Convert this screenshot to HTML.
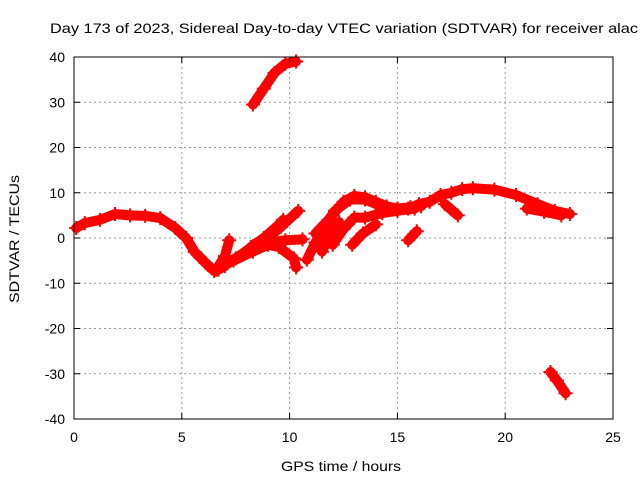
<!DOCTYPE html>
<html><head><meta charset="utf-8"><style>
body{margin:0;background:#fff;}
svg{display:block;font-family:"Liberation Sans",sans-serif;}
</style></head><body>
<svg id="chart" width="640" height="480">
<rect width="640" height="480" fill="#fff"/>
<text x="50" y="33" font-size="14" fill="#000" textLength="588" lengthAdjust="spacingAndGlyphs">Day 173 of 2023, Sidereal Day-to-day VTEC variation (SDTVAR) for receiver alac</text>
<g id="grid"></g>
<g id="series"></g>
<rect x="74" y="57" width="539" height="362" fill="none" stroke="#000" stroke-width="1"/>
<g id="ticks"></g>
<text x="281" y="471" font-size="14" textLength="120" lengthAdjust="spacingAndGlyphs">GPS time / hours</text>
<text transform="translate(19,303) rotate(-90)" font-size="14" textLength="128" lengthAdjust="spacingAndGlyphs">SDTVAR / TECUs</text>
</svg>
<script>
const xTicks=[0,5,10,15,20,25];
const yTicks=[-40,-30,-20,-10,0,10,20,30,40];
const arcMain=[[0.1,2.2],[0.5,3.3],[1.2,4],[1.9,5.3],[2.6,5],[3.3,4.9],[4.0,4.4],[4.7,2.2],[5.2,0],[5.6,-3.1],[6.1,-5.5],[6.5,-7.3],[7.0,-6.2]];
const arcB=[[6.6,-7],[7.0,-4],[7.2,-0.5]];
const arcC=[[6.7,-7],[7.5,-4.5],[8.3,-1.8],[9,0],[9.6,2.5],[10.4,6]];
const arcD=[[7.4,-5],[8.3,-3],[9,-1.5],[9.5,-2],[10.2,-4.5],[10.3,-6.5]];
const arcE=[[8.2,-2],[8.8,0],[9.4,2.5],[9.7,4]];
const arcF=[[9,-1],[9.8,-0.5],[10.6,-0.3]];
const arcG=[[10.8,-4.8],[11.2,-1],[11.6,2.5],[12.1,6],[12.8,8.5],[13.5,8.5],[14,7.5],[14.5,6.5],[15,6.5],[15.6,6.8],[16.1,7]];
const arcH=[[11.2,1],[11.8,4],[12.5,8],[13,9.3],[13.5,9],[14,8],[14.5,7],[15,6.5],[15.5,6.5],[16,7.5],[16.5,8],[17,9.5],[17.5,10],[18,10.8],[18.5,11],[19.5,10.7],[20.5,9.5],[21.5,7.5],[22.3,6],[23,5.3]];
const arcI=[[12,-1.5],[12.5,2],[13,4.5],[13.5,4.5],[14.3,5.5],[15,6],[15.8,6.5]];
const arcJ=[[12.9,-1.5],[13.4,1],[14,3]];
const arcK=[[11.5,-3],[11.9,1],[12.3,3.5]];
const arcL=[[15.5,-0.5],[15.9,1.5]];
const arcM=[[17.2,7.5],[17.8,5]];
const arcN=[[21.0,6.5],[21.8,5.8],[22.6,5]];
const arcTop=[[8.3,29.5],[8.8,33],[9.3,36.5],[9.8,38.5],[10.3,39]];
const arcBottom=[[22.1,-29.6],[22.4,-31.5],[22.8,-34.3]];
const arcs=[arcMain,arcB,arcC,arcD,arcE,arcF,arcG,arcH,arcI,arcJ,arcK,arcL,arcM,arcN,arcTop,arcBottom];
const NS="http://www.w3.org/2000/svg";
const X0=74,X1=613,Y0=419,Y1=57;
function sx(t){return X0+(t-0)/(25-0)*(X1-X0);}
function sy(v){return Y0-(v+40)/80*(Y0-Y1);}
const grid=document.getElementById('grid'),ticks=document.getElementById('ticks'),ser=document.getElementById('series');
function mk(tag,attrs,parent){const e=document.createElementNS(NS,tag);for(const k in attrs)e.setAttribute(k,attrs[k]);parent.appendChild(e);return e;}
xTicks.forEach(t=>{
  const x=sx(t);
  if(t>0&&t<25){const g=mk('line',{x1:x,x2:x,y1:Y1,y2:Y0,stroke:'#999','stroke-dasharray':'2,3'},grid);
  
  }
  const a=mk('line',{x1:x,x2:x,y1:Y0,y2:Y0-6,stroke:'#000'},ticks);
  
  
  const b=mk('line',{x1:x,x2:x,y1:Y1,y2:Y1+6,stroke:'#000'},ticks);
  
  
  const l=mk('text',{x:x,y:Y0+23,'font-size':14,'text-anchor':'middle'},ticks);l.textContent=t;
  
  
});
yTicks.forEach(v=>{
  const y=sy(v);
  if(v>-40&&v<40){const g=mk('line',{x1:X0,x2:X1,y1:y,y2:y,stroke:'#999','stroke-dasharray':'2,3'},grid);
  
  }
  const a=mk('line',{x1:X0,x2:X0+6,y1:y,y2:y,stroke:'#000'},ticks);
  
  
  const b=mk('line',{x1:X1,x2:X1-6,y1:y,y2:y,stroke:'#000'},ticks);
  
  
  const l=mk('text',{x:X0-9,y:y+5,'font-size':14,'text-anchor':'end'},ticks);l.textContent=v;
  
  
});
arcs.forEach(arc=>{
  const pts=arc.map(p=>sx(p[0])+','+sy(p[1])).join(' ');
  const pl=mk('polyline',{points:pts,fill:'none',stroke:'#f00','stroke-width':10,'stroke-linejoin':'round','stroke-linecap':'round'},ser);
  
  
  arc.forEach(p=>{
    const x=sx(p[0]),y=sy(p[1]);
    const m=mk('path',{d:`M${x-7},${y}h14M${x},${y-7}v14`,stroke:'#f00','stroke-width':2},ser);
    
    
  });
});
</script>
</body></html>
